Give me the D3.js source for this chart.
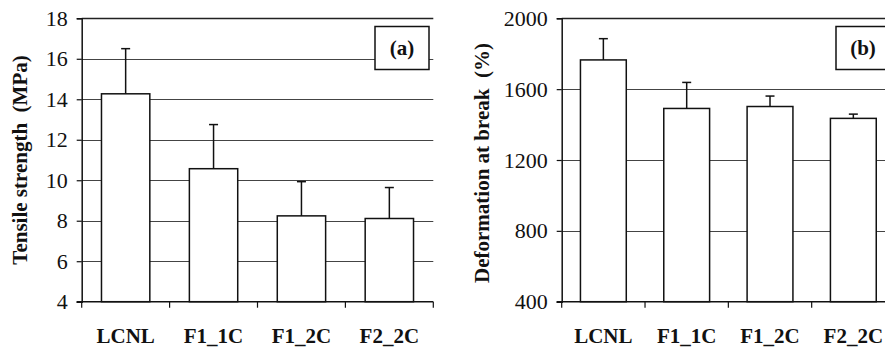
<!doctype html>
<html>
<head>
    <title> Tensile tests </title>
    <script src="https://d3js.org/d3.v7.min.js"> </script>
    <style>
        body { margin: 0; background: #fff; }
        text { font-family: "Liberation Serif", "Times New Roman", serif; fill: #111; }
    </style>
</head>
<body>
    <div id="chart"></div>
    <script>
        // data
        var categories = ["LCNL", "F1_1C", "F1_2C", "F2_2C"];
        var tensile = [14.27, 10.57, 8.24, 8.11];
        var tensileErr = [2.23, 2.18, 1.69, 1.53];
        var tensileTicks = [4, 6, 8, 10, 12, 14, 16, 18];
        var deform = [1765, 1491, 1502, 1435];
        var deformErr = [120, 147, 59, 24];
        var deformTicks = [400, 800, 1200, 1600, 2000];

        var svg = d3.select("#chart")
            .append("svg")
            .attr("width", 885)
            .attr("height", 347);

        function drawPanel(o) {
            var g = svg.append("g");

            var y = d3.scaleLinear().domain(o.domain).range([301.7, 18.3]);
            var x = d3.scaleBand().domain(categories).range([o.x0, o.x1])
                .paddingInner(0.45).paddingOuter(0.225);
            var step = x.step();

            // gridlines
            g.selectAll(".grid")
                .data(o.ticks.slice(1))
                .enter()
                .append("line")
                    .attr("x1", o.x0)
                    .attr("x2", o.x1)
                    .attr("y1", function(d){return Math.round(y(d)) + 0.5;})
                    .attr("y2", function(d){return Math.round(y(d)) + 0.5;})
                    .attr("stroke", function(d, i){return i == o.ticks.length - 2 ? "#222" : "#444";})
                    .attr("stroke-width", function(d, i){return i == o.ticks.length - 2 ? 1.5 : 1;});

            // bars
            g.selectAll(".bar")
                .data(o.values)
                .enter()
                .append("rect")
                    .attr("x", function(d, i){return x(categories[i]);})
                    .attr("width", x.bandwidth())
                    .attr("y", function(d){return y(d);})
                    .attr("height", function(d){return y(o.domain[0]) - y(d);})
                    .attr("fill", "#fff")
                    .attr("stroke", "#111")
                    .attr("stroke-width", 1.5);

            // error bars (upper only)
            var eb = g.selectAll(".err")
                .data(o.values)
                .enter()
                .append("g");
            eb.append("line")
                .attr("x1", function(d, i){return x(categories[i]) + x.bandwidth()/2;})
                .attr("x2", function(d, i){return x(categories[i]) + x.bandwidth()/2;})
                .attr("y1", function(d){return y(d);})
                .attr("y2", function(d, i){return y(d + o.errors[i]);})
                .attr("stroke", "#111")
                .attr("stroke-width", 1.5);
            eb.append("line")
                .attr("x1", function(d, i){return x(categories[i]) + x.bandwidth()/2 - 4.5;})
                .attr("x2", function(d, i){return x(categories[i]) + x.bandwidth()/2 + 4.5;})
                .attr("y1", function(d, i){return y(d + o.errors[i]);})
                .attr("y2", function(d, i){return y(d + o.errors[i]);})
                .attr("stroke", "#111")
                .attr("stroke-width", 1.5);

            // y axis
            var yAxis = g.append("g")
                .attr("transform", "translate(" + o.x0 + ",0)")
                .call(d3.axisLeft(y).tickValues(o.ticks).tickFormat(d3.format("d")).tickSize(5).tickPadding(9));
            yAxis.select(".domain").attr("stroke", "#111").attr("stroke-width", 1.5);
            yAxis.selectAll(".tick line").attr("stroke", "#111").attr("stroke-width", 1.2);
            yAxis.selectAll(".tick text")
                .attr("font-size", 22)
                .attr("fill", "#111");

            // x axis line and boundary ticks
            g.append("line")
                .attr("x1", o.x0 - 5)
                .attr("x2", o.x1)
                .attr("y1", y(o.domain[0]))
                .attr("y2", y(o.domain[0]))
                .attr("stroke", "#111")
                .attr("stroke-width", 1.5);
            g.selectAll(".xtick")
                .data(d3.range(categories.length + 1))
                .enter()
                .append("line")
                    .attr("x1", function(d){return o.x0 + d*step;})
                    .attr("x2", function(d){return o.x0 + d*step;})
                    .attr("y1", y(o.domain[0]))
                    .attr("y2", y(o.domain[0]) + 6)
                    .attr("stroke", "#111")
                    .attr("stroke-width", 1.2);
            g.selectAll(".xlab")
                .data(categories)
                .enter()
                .append("text")
                    .attr("x", function(d){return x(d) + x.bandwidth()/2;})
                    .attr("y", 343)
                    .attr("text-anchor", "middle")
                    .attr("font-size", 21)
                    .attr("font-weight", "bold")
                    .text(function(d){return d;});

            // y title
            g.append("text")
                .attr("transform", "translate(" + o.titleX + "," + o.titleY + ") rotate(-90)")
                .attr("text-anchor", "middle")
                .attr("dy", "0.35em")
                .attr("font-size", 21)
                .attr("font-weight", "bold")
                .text(o.title);

            // panel label box
            g.append("rect")
                .attr("x", o.boxX)
                .attr("y", 26.5)
                .attr("width", 54)
                .attr("height", 43)
                .attr("fill", "#fff")
                .attr("stroke", "#111")
                .attr("stroke-width", 1.5);
            g.append("text")
                .attr("x", o.boxX + 27)
                .attr("y", 48)
                .attr("dy", "0.35em")
                .attr("text-anchor", "middle")
                .attr("font-size", 21)
                .attr("font-weight", "bold")
                .text(o.label);
        }

        drawPanel({
            values: tensile, errors: tensileErr, ticks: tensileTicks, domain: [4, 18],
            x0: 81.7, x1: 433.3, title: "Tensile strength \u00a0(MPa)", titleX: 20, titleY: 160,
            boxX: 375, label: "(a)"
        });

        drawPanel({
            values: deform, errors: deformErr, ticks: deformTicks, domain: [400, 2000],
            x0: 561.7, x1: 895, title: "Deformation at break \u00a0(%)", titleX: 482, titleY: 163,
            boxX: 836, label: "(b)"
        });
    </script>
</body>
</html>
